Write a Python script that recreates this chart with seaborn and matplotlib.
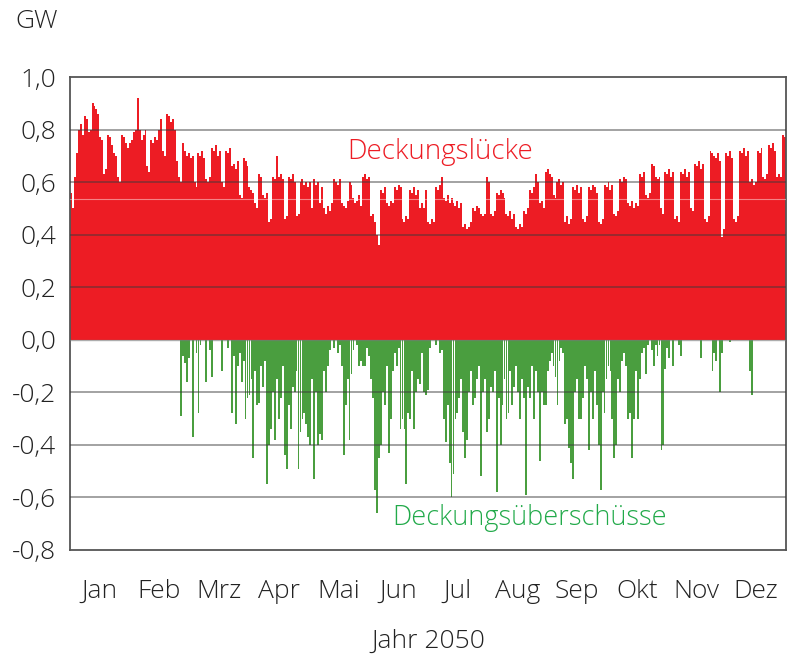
import numpy as np
import pandas as pd
import seaborn as sns
import matplotlib.pyplot as plt

# ---------------- DATA (daily peak values, GW) ----------------
months = ["Jan", "Feb", "Mrz", "Apr", "Mai", "Jun", "Jul", "Aug", "Sep", "Okt", "Nov", "Dez"]
y_ticks = [1.0, 0.8, 0.6, 0.4, 0.2, 0.0, -0.2, -0.4, -0.6, -0.8]
y_labels = ["1,0", "0,8", "0,6", "0,4", "0,2", "0,0", "-0,2", "-0,4", "-0,6", "-0,8"]

# Deckungslücke: daily maximum (positive)
luecke = [
    0.56, 0.50, 0.62, 0.71, 0.80, 0.82, 0.78, 0.85, 0.84, 0.79,
    0.80, 0.90, 0.89, 0.88, 0.86, 0.77, 0.76, 0.63, 0.65, 0.78,
    0.77, 0.74, 0.71, 0.70, 0.62, 0.60, 0.78, 0.77, 0.75, 0.73,
    0.75, 0.76, 0.79, 0.80, 0.92, 0.80, 0.76, 0.78, 0.80, 0.66,
    0.64, 0.76, 0.75, 0.77, 0.76, 0.80, 0.84, 0.72, 0.70, 0.86,
    0.85, 0.83, 0.84, 0.80, 0.68, 0.62, 0.60, 0.75, 0.72, 0.70,
    0.71, 0.69, 0.70, 0.60, 0.58, 0.71, 0.70, 0.72, 0.69, 0.61,
    0.60, 0.62, 0.73, 0.72, 0.74, 0.70, 0.72, 0.60, 0.58, 0.72,
    0.71, 0.73, 0.66, 0.67, 0.65, 0.68, 0.55, 0.54, 0.69, 0.68,
    0.66, 0.58, 0.57, 0.56, 0.52, 0.50, 0.63, 0.62, 0.55, 0.54,
    0.56, 0.45, 0.46, 0.62, 0.61, 0.70, 0.62, 0.63, 0.61, 0.46,
    0.47, 0.62, 0.61, 0.63, 0.60, 0.47, 0.48, 0.60, 0.61, 0.59,
    0.60, 0.58, 0.60, 0.50, 0.61, 0.59, 0.60, 0.52, 0.58, 0.50,
    0.48, 0.51, 0.49, 0.52, 0.61, 0.60, 0.59, 0.61, 0.52, 0.51,
    0.50, 0.53, 0.60, 0.59, 0.54, 0.52, 0.53, 0.55, 0.51, 0.62,
    0.63, 0.61, 0.62, 0.47, 0.48, 0.45, 0.40, 0.36, 0.57, 0.56,
    0.58, 0.52, 0.51, 0.53, 0.52, 0.58, 0.57, 0.59, 0.58, 0.46,
    0.45, 0.47, 0.46, 0.57, 0.56, 0.58, 0.55, 0.57, 0.50, 0.52,
    0.50, 0.57, 0.45, 0.44, 0.46, 0.45, 0.58, 0.57, 0.59, 0.62,
    0.54, 0.53, 0.55, 0.52, 0.54, 0.52, 0.51, 0.53, 0.50, 0.52,
    0.43, 0.44, 0.42, 0.43, 0.45, 0.50, 0.49, 0.51, 0.50, 0.48,
    0.47, 0.48, 0.62, 0.60, 0.48, 0.47, 0.49, 0.56, 0.55, 0.57,
    0.56, 0.54, 0.48, 0.47, 0.49, 0.46, 0.48, 0.43, 0.42, 0.44,
    0.43, 0.49, 0.48, 0.50, 0.57, 0.56, 0.58, 0.63, 0.60, 0.52,
    0.53, 0.50, 0.64, 0.65, 0.63, 0.62, 0.55, 0.54, 0.60, 0.61,
    0.59, 0.60, 0.45, 0.47, 0.44, 0.46, 0.58, 0.57, 0.59, 0.56,
    0.58, 0.46, 0.45, 0.47, 0.58, 0.57, 0.59, 0.58, 0.56, 0.45,
    0.44, 0.46, 0.59, 0.58, 0.60, 0.57, 0.59, 0.48, 0.47, 0.49,
    0.61, 0.60, 0.62, 0.61, 0.52, 0.51, 0.53, 0.50, 0.52, 0.51,
    0.63, 0.62, 0.64, 0.55, 0.54, 0.56, 0.67, 0.66, 0.62, 0.61,
    0.62, 0.50, 0.48, 0.64, 0.63, 0.65, 0.62, 0.64, 0.46, 0.47,
    0.45, 0.64, 0.63, 0.65, 0.62, 0.64, 0.50, 0.49, 0.67, 0.66,
    0.68, 0.65, 0.67, 0.46, 0.45, 0.47, 0.72, 0.71, 0.70, 0.69,
    0.71, 0.68, 0.39, 0.42, 0.71, 0.70, 0.72, 0.69, 0.46, 0.45,
    0.47, 0.72, 0.71, 0.73, 0.70, 0.72, 0.60, 0.61, 0.59, 0.60,
    0.72, 0.71, 0.73, 0.62, 0.61, 0.63, 0.74, 0.73, 0.75, 0.72,
    0.62, 0.63, 0.62, 0.78, 0.77,
]

# Deckungsueberschuesse: daily minimum (negative)
ueberschuss = [
    0, 0, 0, 0, 0, 0, 0, 0, 0, 0,
    0, 0, 0, 0, 0, 0, 0, 0, 0, 0,
    0, 0, 0, 0, 0, 0, 0, 0, 0, 0,
    0, 0, 0, 0, 0, 0, 0, 0, 0, 0,
    0, 0, 0, 0, 0, 0, 0, 0, 0, 0,
    0, 0, 0, 0, 0, 0, -0.29, -0.06, -0.09, -0.16,
    -0.07, 0, -0.37, 0, -0.05, -0.28, -0.02, 0, 0, -0.16,
    0, -0.04, -0.14, 0, 0, 0, 0, -0.12, 0, 0,
    -0.03, 0, -0.28, -0.06, -0.32, -0.10, -0.05, -0.16, -0.08, -0.30,
    -0.22, -0.21, -0.15, -0.45, -0.12, -0.25, -0.24, -0.10, -0.18, -0.08,
    -0.55, -0.40, -0.34, -0.20, -0.38, -0.15, -0.30, -0.22, -0.10, -0.44,
    -0.49, -0.25, -0.34, -0.18, -0.20, -0.12, -0.49, -0.35, -0.30, -0.28,
    -0.32, -0.37, -0.40, -0.15, -0.53, -0.20, -0.40, -0.36, -0.38, -0.12,
    -0.20, -0.10, -0.04, 0, -0.03, 0, -0.05, -0.02, -0.10, -0.44,
    -0.25, -0.15, -0.38, -0.13, -0.04, 0, -0.02, -0.10, -0.08, -0.10,
    -0.10, -0.03, -0.06, -0.15, -0.22, -0.57, -0.66, -0.45, -0.40, -0.20,
    -0.25, -0.10, -0.43, -0.30, -0.12, -0.05, -0.10, -0.03, -0.34, -0.30,
    -0.34, -0.55, -0.28, -0.30, -0.12, -0.34, -0.20, -0.15, -0.17, -0.05,
    -0.20, -0.21, -0.19, -0.03, 0, 0, -0.02, 0, -0.05, -0.04,
    -0.30, -0.39, -0.25, -0.47, -0.60, -0.51, -0.30, -0.28, -0.22, -0.15,
    -0.35, -0.45, -0.38, -0.20, -0.12, -0.25, -0.22, -0.15, -0.10, -0.52,
    -0.20, -0.15, -0.35, -0.30, -0.18, -0.20, -0.12, -0.58, -0.22, -0.40,
    -0.25, -0.15, -0.30, -0.28, -0.12, -0.25, -0.18, -0.10, -0.20, -0.30,
    -0.15, -0.22, -0.59, -0.18, -0.22, -0.10, -0.30, -0.12, -0.20, -0.46,
    -0.20, -0.25, -0.25, -0.12, -0.08, -0.05, -0.10, -0.14, -0.25, -0.08,
    -0.03, -0.05, -0.32, -0.30, -0.41, -0.47, -0.53, -0.20, -0.15, -0.30,
    -0.30, -0.22, -0.10, -0.15, -0.42, -0.20, -0.30, -0.12, -0.25, -0.40,
    -0.57, -0.20, -0.28, -0.15, -0.10, -0.12, -0.30, -0.45, -0.40, -0.15,
    -0.20, -0.08, -0.05, -0.10, -0.30, -0.28, -0.45, -0.30, -0.12, -0.30,
    -0.15, -0.05, -0.03, -0.13, -0.02, 0, -0.04, -0.10, -0.02, -0.06,
    -0.02, -0.42, -0.40, -0.11, -0.03, -0.07, 0, -0.10, 0, 0,
    -0.02, -0.06, 0, 0, 0, 0, 0, 0, 0, 0,
    0, -0.07, 0, 0, 0, 0, 0, -0.12, -0.05, -0.08,
    0, -0.20, -0.05, 0, 0, 0, -0.01, 0, 0, 0,
    0, 0, 0, 0, 0, 0, -0.12, -0.21, 0, 0,
    0, 0, 0, 0, 0, 0, 0, 0, 0, 0,
    0, 0, 0, 0, 0,
]

RED = "#ED1C24"
GREEN = "#4A9E3F"
GREEN_TXT = "#22AA4A"
GRID = "#3A3A3A"
TXT = "#222222"

days = np.arange(len(luecke))
df = pd.DataFrame({"tag": days, "luecke": luecke, "ueberschuss": ueberschuss})

# ---------------- PLOT ----------------
sns.set_style("white")
plt.rcParams["font.family"] = ["Open Sans", "DejaVu Sans"]
plt.rcParams["font.weight"] = "light"
plt.rcParams["axes.labelweight"] = "light"

fig = plt.figure(figsize=(7.88, 6.56), dpi=100)
ax = fig.add_axes([0.0888, 0.1616, 0.9087, 0.721])

sns.barplot(data=df, x="tag", y="luecke", native_scale=True, width=1.0,
            color=RED, saturation=1, errorbar=None, linewidth=0, ax=ax)
sns.barplot(data=df, x="tag", y="ueberschuss", native_scale=True, width=0.95,
            color=GREEN, saturation=1, errorbar=None, linewidth=0, ax=ax)

n_days = len(luecke)
ax.set_xlim(-0.5, n_days - 0.5)
ax.set_ylim(-0.8, 1.0)

# gridlines on top of the bars
for v in [0.8, 0.6, 0.4, 0.2, -0.2, -0.4, -0.6]:
    ax.axhline(v, color=GRID, lw=1.1, alpha=0.6, zorder=5)
ax.axhline(0.0, color="#777777", lw=1.0, alpha=0.6, zorder=5)
ax.axhline(0.537, color="white", lw=0.8, alpha=0.45, zorder=5)

ax.set_yticks(y_ticks)
ax.set_yticklabels(y_labels, fontsize=19, color=TXT)
ax.tick_params(axis="y", length=0, pad=10)

# month boundaries as major ticks, month names centred between them
bounds = np.linspace(-0.5, n_days - 0.5, 13)
mids = (bounds[:-1] + bounds[1:]) / 2
ax.set_xticks(bounds)
ax.set_xticklabels([""] * 13)
ax.set_xticks(mids, minor=True)
ax.set_xticklabels(months, minor=True, fontsize=19, color=TXT)
ax.tick_params(axis="x", which="major", direction="out", length=12, width=1.3, color="#555555")
ax.tick_params(axis="x", which="minor", length=0, pad=21)
ax.set_xlabel("Jahr 2050", fontsize=19, color=TXT, labelpad=18, fontweight="light")
ax.set_ylabel("")

for side in ["left", "right", "top", "bottom"]:
    ax.spines[side].set_visible(True)
    ax.spines[side].set_color("#555555")
    ax.spines[side].set_linewidth(1.3)

ax.text(188, 0.716, "Deckungslücke", color=RED, fontsize=20,
        ha="center", va="center", zorder=6)
ax.text(234, -0.68, "Deckungsüberschüsse", color=GREEN_TXT, fontsize=19.5,
        ha="center", va="center", zorder=6)

fig.text(0.019, 0.967, "GW", fontsize=19, color=TXT, ha="left", va="center")

fig.savefig("out.png", dpi=100, facecolor="white")
